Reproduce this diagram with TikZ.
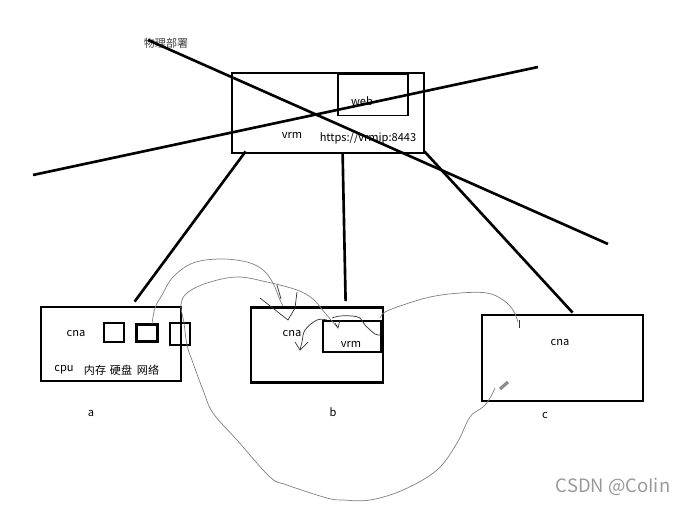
\documentclass[tikz,border=0pt]{standalone}
\usepackage{fontspec}
\newfontfamily\cjk{Noto Sans CJK SC}
\begin{document}
\begin{tikzpicture}[x=0.02cm,y=-0.02cm,
    box/.style={draw,line width=1.6pt,inner sep=0pt},
    webbox/.style={draw,line width=1.1pt,inner sep=0pt},
    wire/.style={line width=1.5pt},
    scribble/.style={gray,line width=0.4pt},
    dscribble/.style={black!80,line width=0.4pt},
    lbl/.style={font=\cjk\fontsize{6.3}{7}\selectfont,inner sep=0pt}]
    \useasboundingbox (0,0) rectangle (687,514);

    % Define the vrm box
    \node[box,minimum width=3.84cm,minimum height=1.6cm] (vrm) at (328,113) {};
    \node[webbox,minimum width=1.4cm,minimum height=0.82cm] (web) at (373,95) {};
    \node[lbl] (webtxt) at (362,101) {web};
    \node[lbl] (vrmtxt) at (292,135) {vrm};
    \node[lbl] (url) at (368,138) {https://vrmip:8443};
    \node[lbl,text=black!75] (title) at (166,43) {物理部署};

    % Define the hosts
    \node[box,minimum width=2.8cm,minimum height=1.48cm] (hosta) at (111,344) {};
    \node[box,minimum width=0.4cm,minimum height=0.38cm] (disk1) at (114,332.5) {};
    \node[box,minimum width=0.42cm,minimum height=0.34cm] (disk2) at (147,333) {};
    \node[box,minimum width=0.4cm,minimum height=0.44cm] (disk3) at (180,334) {};
    \node[lbl] (cnaa) at (76,333) {cna};
    \node[lbl] (cpu) at (64,370) {cpu};
    \node[lbl] (mem) at (95,370) {内存};
    \node[lbl] (hdd) at (121,370) {硬盘};
    \node[lbl] (net) at (148,370) {网络};

    \node[box,minimum width=2.64cm,minimum height=1.5cm] (hostb) at (317,345) {};
    \node[box,minimum width=1.16cm,minimum height=0.62cm] (vrmb) at (352,336.5) {};
    \node[lbl] (cnab) at (292,333) {cna};
    \node[lbl] (vrmbtxt) at (351,344) {vrm};

    \node[box,minimum width=3.22cm,minimum height=1.72cm] (hostc) at (562.5,358) {};
    \node[lbl] (cnac) at (560,342) {cna};

    \node[lbl] (a) at (91,413) {a};
    \node[lbl] (b) at (333,412) {b};
    \node[lbl] (c) at (545,415) {c};
    \node[font=\cjk\fontsize{10.5}{12}\selectfont,text=black!40,inner sep=0pt] (mark) at (613,487) {CSDN @CoIin};

    % Draw links
    \draw[wire] ([shift={(15,-3)}]vrm.south west) -- ([shift={(95,-4)}]hosta.north west);
    \draw[wire] ([shift={(112,-1)}]vrm.south west) -- ([shift={(96,-5)}]hostb.north west);
    \draw[wire] ([shift={(-1,-3)}]vrm.south east) -- ([shift={(92,-1)}]hostc.north west);

    % Draw cross-out strokes
    \draw[wire] (148,40) -- (608,244);
    \draw[wire] (33,175) -- (538,67);

    % Draw scribbles
    \draw[scribble] plot[smooth,tension=0.6] coordinates {(152,324) (155,308) (162,295) (173,277) (193,263) (220,259) (247,262) (263,270) (273,283) (280,300) (283,306)};
    \draw[scribble] plot[smooth,tension=0.6] coordinates {(495,388) (490,398) (483,407) (470,417) (457,443) (437,470) (403,490) (370,500) (343,500) (327,498) (287,485) (270,477) (237,440) (213,413) (203,390) (193,363) (187,345) (184,323) (181,305) (187,293) (207,283) (237,277) (267,282) (297,290) (313,299) (325,313) (337,327)};
    \draw[scribble] plot[smooth,tension=0.6] coordinates {(380,318) (385,312) (403,305) (430,297) (460,293) (487,293) (503,300) (513,310) (518,322)};
    \draw[dscribble] (519,320) -- (519,328);
    \draw[dscribble] (260,298) -- (288,320) -- (295,308) -- (297,292);
    \draw[dscribble] (277,285) -- (281,299);
    \draw[dscribble] (335,323) -- (338,328) -- (340,320);
    \draw[dscribble] plot[smooth,tension=0.6] coordinates {(327,320) (317,320) (305,330) (302,342) (300,350)};
    \draw[dscribble] (295,342) -- (300,350) -- (308,342);
    \draw[dscribble] plot[smooth,tension=0.6] coordinates {(332,318) (340,316) (352,316) (360,318) (365,325) (375,334) (380,335)};
    \draw[black!45,line width=1.8pt] (500,389) -- (508,382);
\end{tikzpicture}
\end{document}
